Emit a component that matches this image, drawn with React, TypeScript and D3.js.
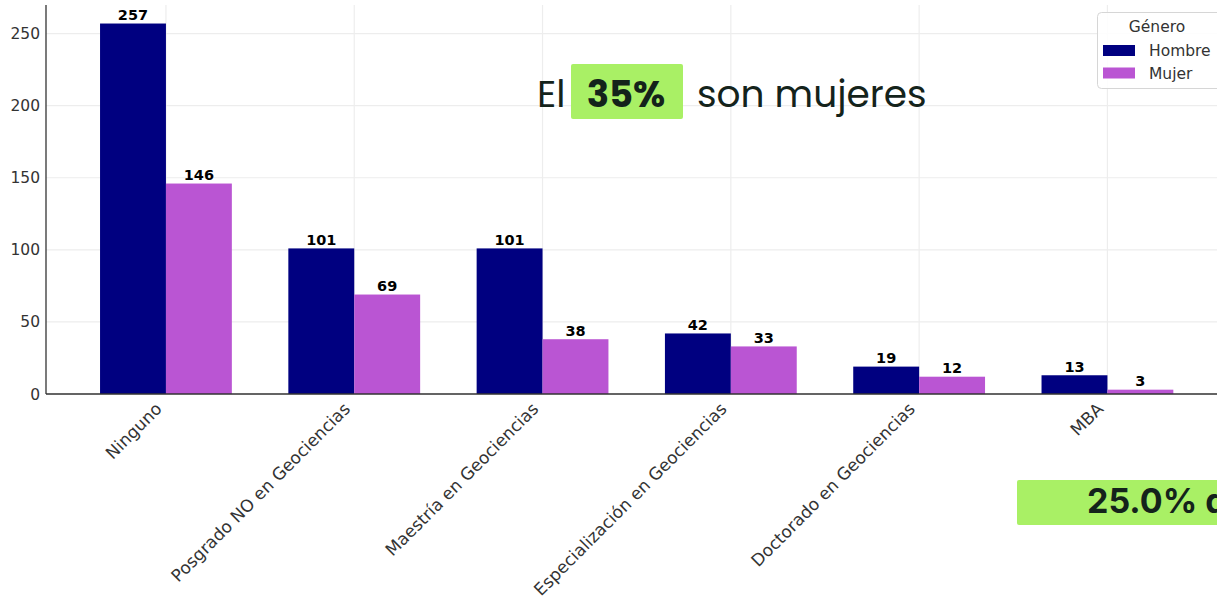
import React from "react";
import * as d3 from "d3";

const categories = [
  "Ninguno",
  "Posgrado NO en Geociencias",
  "Maestría en Geociencias",
  "Especialización en Geociencias",
  "Doctorado en Geociencias",
  "MBA",
];
const hombre = [257, 101, 101, 42, 19, 13];
const mujer = [146, 69, 38, 33, 12, 3];
const yTicks = [0, 50, 100, 150, 200, 250];
const seriesNames = ["Hombre", "Mujer"];
const seriesColors = ["#000080", "#BA55D3"];

const W = 1217;
const H = 600;

export default function App() {
  const barW = 0.35;
  const x = d3.scaleLinear().domain([-0.637, 5.635]).range([46, 1227]);
  const y = d3.scaleLinear().domain([0, 269.85]).range([394, 5]);
  const series = [hombre, mujer];
  const tickFont = "'DejaVu Sans', sans-serif";
  const overlayFont = "Poppins, Inter, 'Open Sans', sans-serif";
  const dark = "#14231b";

  return (
    <svg
      width={W}
      height={H}
      style={{ position: "absolute", left: 0, top: 0, background: "#fff" }}
      fontFamily={tickFont}
    >
      <rect x={0} y={0} width={W} height={H} fill="#fff" />
      {/* grid */}
      {yTicks.map((t) => (
        <line key={"gy" + t} x1={x(-0.637)} x2={W} y1={y(t)} y2={y(t)} stroke="#ededed" strokeWidth={1.2} />
      ))}
      {categories.map((c, i) => (
        <line key={"gx" + i} x1={x(i)} x2={x(i)} y1={y(269.85)} y2={y(0)} stroke="#ededed" strokeWidth={1.2} />
      ))}
      {/* bars */}
      {series.map((vals, s) =>
        vals.map((v, i) => {
          const cx = i + (s === 0 ? -barW / 2 : barW / 2);
          const x0 = x(cx - barW / 2);
          const x1 = x(cx + barW / 2);
          return (
            <g key={s + "-" + i}>
              <rect x={x0} y={y(v)} width={x1 - x0} height={y(0) - y(v)} fill={seriesColors[s]} />
              <text
                x={(x0 + x1) / 2}
                y={y(v) - 3.5}
                textAnchor="middle"
                fontSize={14.5}
                fontWeight="bold"
                fill="#000"
              >
                {v}
              </text>
            </g>
          );
        })
      )}
      {/* axes */}
      <line x1={x(-0.637)} x2={x(-0.637)} y1={y(269.85)} y2={y(0)} stroke="#333" strokeWidth={1.3} />
      <line x1={x(-0.637)} x2={W} y1={y(0)} y2={y(0)} stroke="#333" strokeWidth={1.3} />
      {yTicks.map((t) => (
        <text key={"yt" + t} x={40} y={y(t) + 5.5} textAnchor="end" fontSize={15.5} fill="#333">
          {t}
        </text>
      ))}
      {categories.map((c, i) => (
        <text
          key={"xt" + i}
          transform={`translate(${x(i) - 3},${y(0) + 16}) rotate(-45)`}
          textAnchor="end"
          fontSize={17}
          fill="#333"
        >
          {c}
        </text>
      ))}
      {/* legend */}
      <rect x={1097.5} y={12.5} width={130} height={76} rx={4} fill="#fff" fillOpacity={0.85} stroke="#d6d6d6" />
      <text x={1157} y={32} textAnchor="middle" fontSize={15.5} fill="#333">
        Género
      </text>
      {seriesNames.map((n, k) => (
        <g key={n}>
          <rect x={1103} y={45 + k * 22.5} width={32} height={11} fill={seriesColors[k]} />
          <text x={1149} y={56 + k * 22.5} fontSize={15.5} fill="#333">
            {n}
          </text>
        </g>
      ))}
      {/* overlay annotation 1 */}
      <text x={537} y={107} fontFamily={overlayFont} fontSize={37.5} fill={dark}>
        El
      </text>
      <rect x={571} y={64} width={112} height={55} rx={2} fill="#a9f065" />
      <text x={626} y={107} textAnchor="middle" fontFamily={overlayFont} fontSize={37} fontWeight="bold" fill={dark}>
        35%
      </text>
      <text x={697} y={107} fontFamily={overlayFont} fontSize={37.5} fill={dark}>
        son mujeres
      </text>
      {/* overlay annotation 2 */}
      <rect x={1017} y={480} width={220} height={45} rx={2} fill="#a9f065" />
      <text x={1087} y={513} fontFamily="Inter, Roboto, sans-serif" fontSize={34} fontWeight="bold" fill={dark}>
        25.0% de
      </text>
    </svg>
  );
}
